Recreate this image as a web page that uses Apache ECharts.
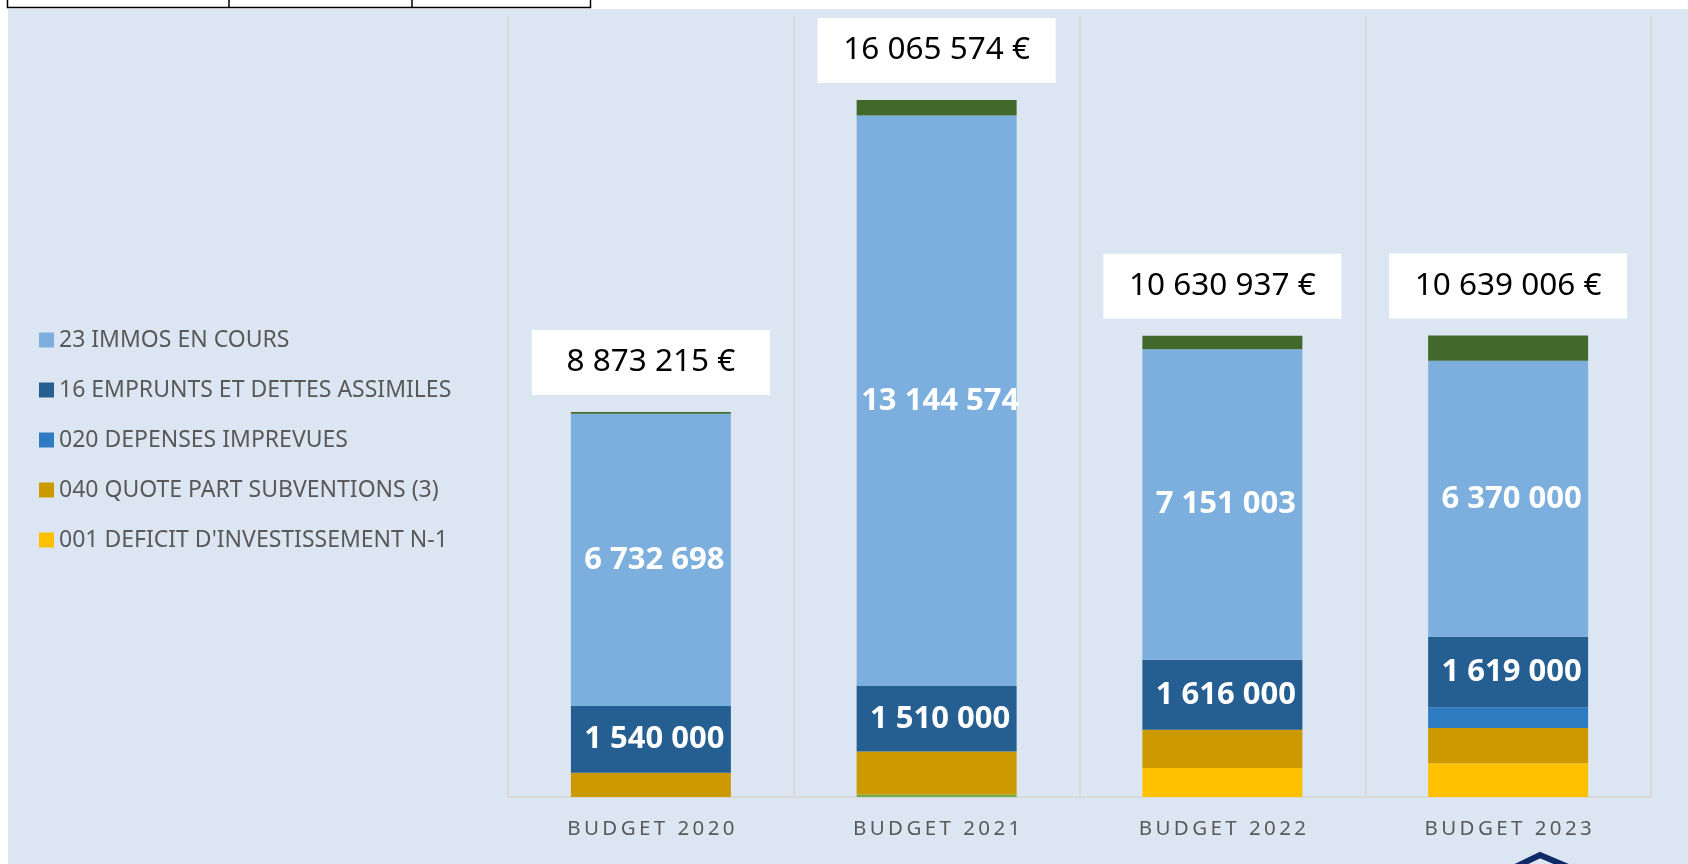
<!DOCTYPE html>
<html>
<head>
<meta charset="utf-8">
<script src="https://cdn.jsdelivr.net/npm/echarts@6/dist/echarts.min.js"></script>
<style>
html,body{margin:0;padding:0;background:#fff;}
#chart{width:1688px;height:864px;}
</style>
</head>
<body>
<div id="chart"></div>
<script>
// ---- data ----
const categories = ['BUDGET 2020', 'BUDGET 2021', 'BUDGET 2022', 'BUDGET 2023'];
const autresBas = [0, 60000, 0, 0];                               // small green at bottom (2021)
const deficit001 = [0, 0, 670000, 776000];                        // 001 DEFICIT D'INVESTISSEMENT N-1
const quotePart040 = [560000, 990000, 880000, 813000];            // 040 QUOTE PART SUBVENTIONS (3)
const imprevues020 = [0, 0, 0, 477000];                           // 020 DEPENSES IMPREVUES
const emprunts16 = [1540000, 1510000, 1616000, 1619000];          // 16 EMPRUNTS ET DETTES ASSIMILES
const immos23 = [6732698, 13144574, 7151003, 6370000];            // 23 IMMOS EN COURS
const autresHaut = [40517, 361000, 313934, 584006];               // dark green on top
const totals = [8873215, 16065574, 10630937, 10639006];
const legendNames = ['23 IMMOS EN COURS', '16 EMPRUNTS ET DETTES ASSIMILES', '020 DEPENSES IMPREVUES',
  '040 QUOTE PART SUBVENTIONS (3)', "001 DEFICIT D'INVESTISSEMENT N-1"];

const FONT = 'Noto Sans';
function fmt(v) { return String(Math.round(v)).replace(/\B(?=(\d{3})+(?!\d))/g, ' '); }

const insideLabel = {
  show: true, position: 'inside', offset: [3.5, 0], color: '#fff', fontFamily: FONT, fontWeight: 'bold', fontSize: 31,
  formatter: p => fmt(p.value)
};

function bar(name, data, color, label) {
  return {
    name: name, type: 'bar', stack: 'total', data: data, barWidth: 160,
    itemStyle: { color: color }, label: label || { show: false },
    emphasis: { disabled: true }
  };
}

const series = [
  bar('AUTRES (bas)', autresBas, '#70AD47'),
  bar(legendNames[4], deficit001, '#FFC000'),
  bar(legendNames[3], quotePart040, '#CC9A00'),
  bar(legendNames[2], imprevues020, '#2E7BC2'),
  bar(legendNames[1], emprunts16, '#255E91', insideLabel),
  bar(legendNames[0], immos23, '#7CAFDD', insideLabel),
  bar('AUTRES (haut)', autresHaut, '#43682B', {
    show: true, position: 'top', distance: 17,
    formatter: p => fmt(totals[p.dataIndex]) + ' €',
    color: '#000', fontFamily: FONT, fontSize: 31.5, lineHeight: 31,
    backgroundColor: '#fff', padding: [17, 20], width: 198, align: 'center'
  })
];

const chart = echarts.init(document.getElementById('chart'), null, { renderer: 'canvas' });
chart.setOption({
  animation: false,
  backgroundColor: '#DCE6F2',
  textStyle: { fontFamily: FONT },
  grid: { left: 508, right: 37, top: 16, bottom: 67, containLabel: false },
  legend: {
    data: legendNames, orient: 'vertical', left: 39, top: 328, padding: 0,
    itemWidth: 15, itemHeight: 15, itemGap: 26, icon: 'rect',
    textStyle: { color: '#595959', fontSize: 23, lineHeight: 24, fontFamily: FONT },
    selectedMode: false
  },
  xAxis: {
    type: 'category', data: categories,
    axisLine: { show: true, lineStyle: { color: '#D9D9D9', width: 2 } },
    axisTick: { show: false },
    splitLine: { show: true, lineStyle: { color: '#D9D9D9', width: 2 } },
    axisLabel: {
      color: '#595959', fontSize: 20.5, fontFamily: FONT, margin: 22,
      formatter: v => v.split('').join('\u2009')
    }
  },
  yAxis: { type: 'value', min: 0, max: 18000000, show: false, splitLine: { show: false } },
  series: series,
  graphic: [
    { type: 'rect', shape: { x: 0, y: 0, width: 8, height: 864 }, style: { fill: '#fff' }, silent: true },
    { type: 'rect', shape: { x: 0, y: 0, width: 1688, height: 9 }, style: { fill: '#fff' }, silent: true },
    { type: 'rect', shape: { x: 7.5, y: -2, width: 583, height: 9.5 }, style: { fill: '#fff', stroke: '#000', lineWidth: 1.5 }, silent: true },
    { type: 'line', shape: { x1: 229, y1: 0, x2: 229, y2: 7.5 }, style: { stroke: '#000', lineWidth: 1.5 }, silent: true },
    { type: 'line', shape: { x1: 412, y1: 0, x2: 412, y2: 7.5 }, style: { stroke: '#000', lineWidth: 1.5 }, silent: true },
    { type: 'polyline', shape: { points: [[1505, 872], [1540, 855], [1580, 872]] }, style: { stroke: '#0F2A66', lineWidth: 6, fill: null }, silent: true }
  ]
});
</script>
</body>
</html>
